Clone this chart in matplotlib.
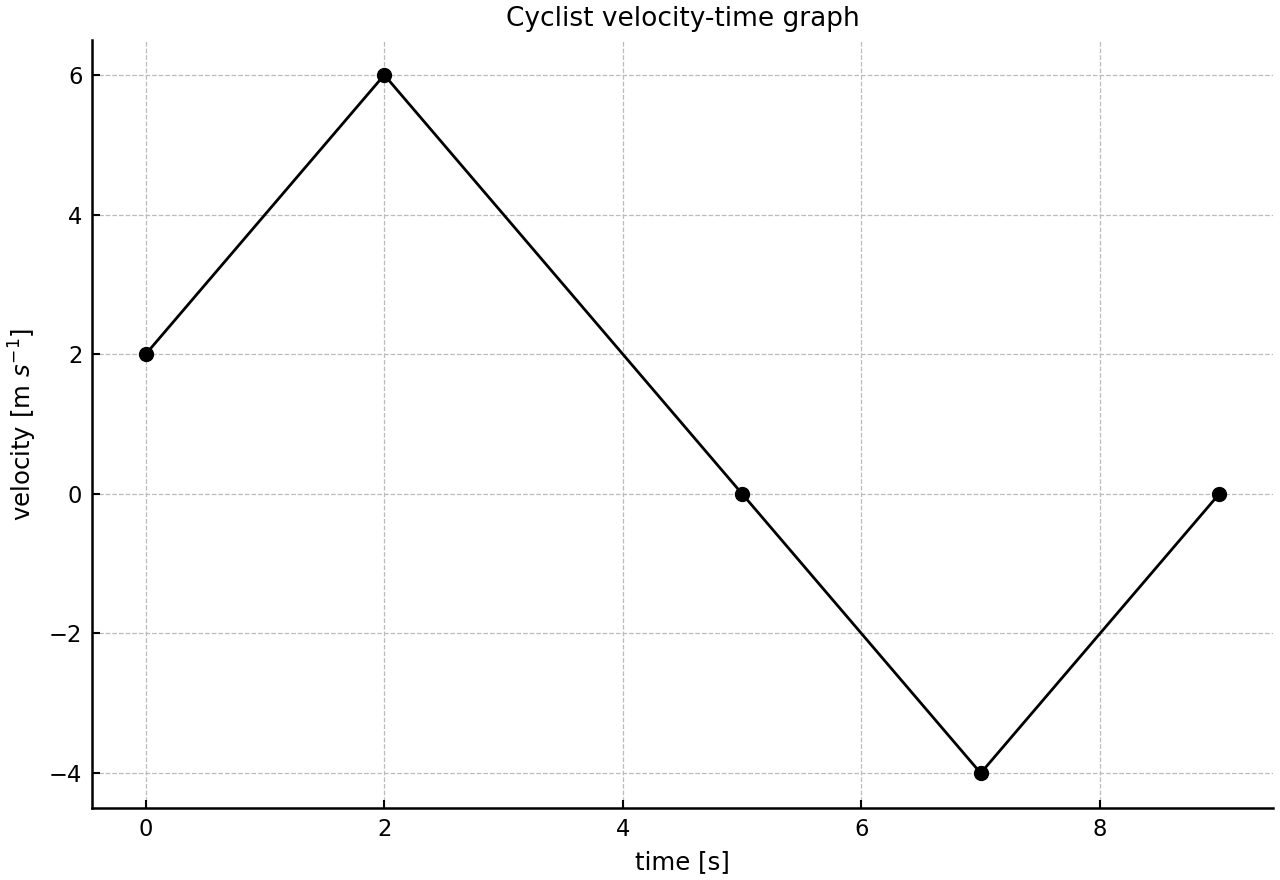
import matplotlib
matplotlib.use("Agg")
import matplotlib.pyplot as plt

time_s = [0, 2, 5, 7, 9]
velocity = [2, 6, 0, -4, 0]

fig = plt.figure(figsize=(12.8, 8.8), dpi=100)
ax = fig.add_axes([0.0719, 0.0818, 0.9226, 0.8727])
ax.plot(time_s, velocity, color="black", linewidth=2, marker="o", markersize=10, zorder=3)
ax.set_title("Cyclist velocity-time graph", fontsize=19, pad=10)
ax.set_xlabel("time [s]", fontsize=17.6, labelpad=7)
ax.set_ylabel(r"velocity [m $s^{-1}$]", fontsize=17.6, labelpad=7.5)
ax.tick_params(direction="in", labelsize=16.3, length=6, width=1.5, pad=7)
for s in ["top", "right"]:
    ax.spines[s].set_visible(False)
for s in ["left", "bottom"]:
    ax.spines[s].set_linewidth(1.8)
ax.grid(True, linestyle="--", color="#bbbbbb", linewidth=0.9)
ax.set_axisbelow(True)
fig.savefig("out.png", dpi=100)
